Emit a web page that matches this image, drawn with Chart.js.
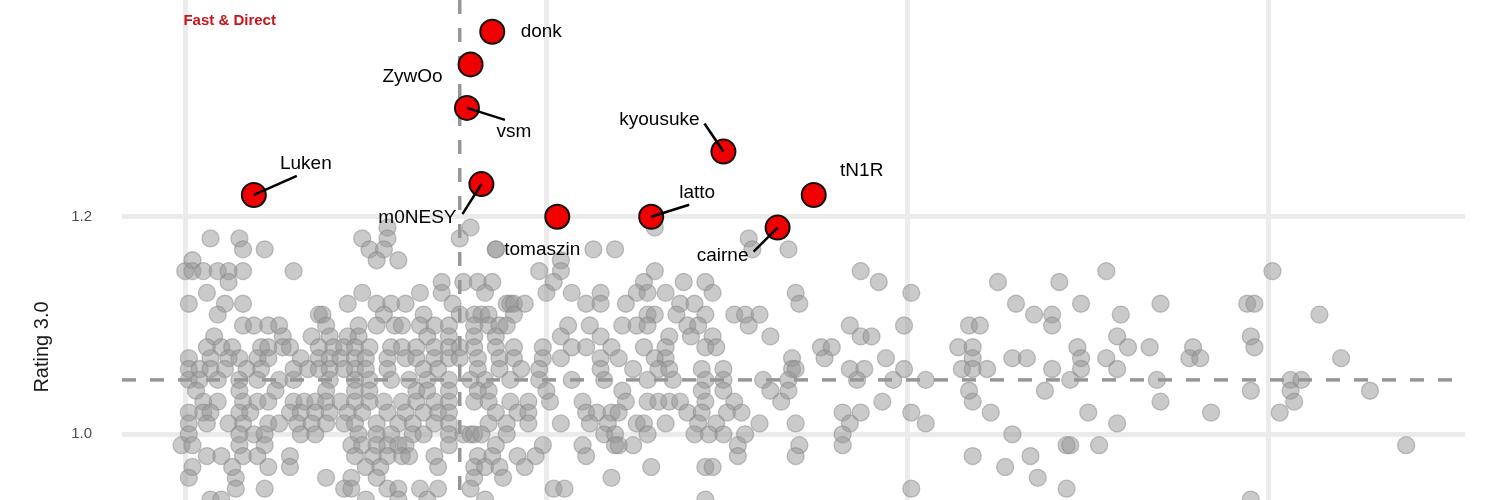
<!DOCTYPE html>
<html>
<head>
<meta charset="utf-8">
<title>Rating 3.0 scatter</title>
<script src="https://cdn.jsdelivr.net/npm/chart.js"></script>
<style>
  html, body { margin: 0; padding: 0; background: #fff; }
  #wrap { width: 1500px; height: 500px; }
</style>
</head>
<body>
<div id="wrap"><canvas id="chart" width="1500" height="500"></canvas></div>
<script>
// axis setup
const xTicks = [20, 30, 40, 50];
const yTicks = [1.0, 1.2];
const xMin = 18.25, xMax = 55.43;
const yMin = 0.9396, yMax = 1.3992;
const xMean = 27.6; // vertical dashed reference
const yMean = 1.05; // horizontal dashed reference

// highlighted players
const playerNames = ["donk", "ZywOo", "vsm", "Luken", "m0NESY", "tomaszin", "latto", "kyousuke", "tN1R", "cairne"];
const playerX = [28.5, 27.9, 27.8, 21.9, 28.2, 30.3, 32.9, 34.9, 37.4, 36.4];
const playerRating = [1.37, 1.34, 1.30, 1.22, 1.23, 1.20, 1.20, 1.26, 1.22, 1.19];

// everybody else, grouped by rating
const ratingLevels = [1.19, 1.18, 1.17, 1.16, 1.15, 1.14, 1.13, 1.12, 1.11, 1.10, 1.09, 1.08, 1.07, 1.06, 1.05, 1.04, 1.03, 1.02, 1.01, 1.00, 0.99, 0.98, 0.97, 0.96, 0.95, 0.94];
const otherXByLevel = [
  [25.6, 27.9, 33.0],
  [20.7, 21.5, 24.9, 25.6, 27.6, 35.6],
  [21.6, 22.2, 25.1, 25.5, 28.6, 28.6, 31.3, 31.9, 35.7, 36.7],
  [20.2, 25.3, 25.9, 30.4],
  [20.0, 20.2, 20.5, 20.9, 21.2, 21.6, 23.0, 29.8, 30.4, 33.0, 38.7, 45.5, 50.1],
  [21.2, 27.1, 27.7, 28.1, 28.5, 30.2, 32.7, 33.8, 34.4, 39.2, 42.5, 44.2],
  [20.6, 24.9, 26.5, 27.1, 28.3, 30.0, 30.7, 31.5, 32.5, 32.8, 33.3, 34.6, 36.9, 40.1],
  [20.1, 21.1, 21.6, 24.5, 25.3, 25.7, 26.1, 27.4, 28.9, 29.0, 29.1, 29.4, 31.1, 31.5, 32.2, 33.7, 34.1, 37.0, 43.0, 44.8, 47.0, 49.4, 49.6],
  [20.9, 23.7, 23.8, 25.5, 26.6, 27.6, 28.0, 28.2, 28.4, 29.1, 32.8, 33.0, 33.6, 34.4, 35.2, 35.5, 35.9, 43.5, 44.0, 45.9, 51.4],
  [21.6, 21.9, 22.3, 22.6, 23.9, 24.8, 25.3, 25.8, 26.0, 26.5, 26.9, 27.3, 28.0, 28.4, 28.7, 28.9, 30.6, 31.2, 32.1, 32.5, 32.8, 33.9, 34.2, 35.6, 38.4, 39.9, 41.7, 42.0, 44.0],
  [20.8, 22.7, 23.5, 24.0, 24.5, 24.8, 26.7, 27.3, 28.0, 28.6, 30.4, 31.5, 33.4, 34.0, 34.6, 36.2, 38.7, 39.0, 45.8, 49.5],
  [20.6, 21.0, 21.3, 22.1, 22.3, 22.7, 22.9, 23.7, 24.1, 24.4, 24.7, 25.1, 25.7, 26.0, 26.4, 26.9, 27.3, 27.6, 28.0, 28.6, 29.1, 29.9, 30.7, 31.1, 31.8, 32.7, 33.3, 34.4, 34.7, 37.6, 37.9, 41.4, 41.8, 44.7, 46.1, 46.7, 47.9, 49.6],
  [20.1, 20.7, 21.2, 21.5, 22.0, 22.3, 23.2, 23.7, 24.0, 24.3, 24.7, 25.0, 25.6, 26.1, 26.4, 26.9, 27.3, 27.6, 28.1, 28.7, 29.1, 29.9, 30.4, 31.5, 32.0, 33.0, 33.3, 36.8, 37.7, 39.4, 41.8, 42.9, 43.3, 44.8, 45.5, 47.8, 48.1, 52.0],
  [20.1, 20.4, 20.7, 21.1, 21.7, 22.1, 23.0, 23.4, 23.7, 24.0, 24.4, 24.7, 25.0, 25.6, 26.6, 27.0, 28.1, 28.7, 29.3, 29.8, 31.5, 32.4, 33.1, 33.4, 34.3, 34.9, 36.8, 36.9, 38.4, 38.8, 39.9, 41.5, 41.8, 42.2, 44.0, 44.8, 45.8],
  [20.1, 20.4, 20.9, 21.5, 22.0, 22.6, 23.0, 24.0, 24.7, 25.1, 25.7, 26.2, 26.7, 27.3, 27.9, 28.3, 29.0, 29.8, 30.7, 31.6, 32.8, 33.5, 34.4, 34.9, 36.0, 36.7, 38.6, 39.6, 40.5, 44.5, 46.9, 50.6, 50.9],
  [20.3, 21.5, 22.5, 23.9, 24.7, 25.1, 26.4, 26.7, 27.3, 28.1, 28.4, 30.0, 32.1, 34.3, 34.9, 36.2, 36.7, 41.7, 43.8, 49.5, 50.6, 52.8],
  [20.5, 20.9, 21.6, 22.0, 22.3, 23.0, 23.3, 23.6, 23.9, 24.3, 24.7, 25.1, 25.5, 26.0, 26.4, 26.9, 27.3, 28.0, 28.4, 29.0, 29.5, 30.1, 31.0, 32.2, 32.8, 33.1, 33.4, 33.7, 34.4, 35.2, 36.5, 39.3, 41.8, 47.0, 50.7],
  [20.1, 20.5, 20.7, 21.5, 21.8, 22.9, 23.2, 23.6, 24.0, 24.5, 24.9, 25.6, 26.1, 26.6, 27.0, 27.3, 28.6, 29.2, 29.5, 31.1, 31.4, 31.8, 32.0, 33.9, 34.3, 35.0, 35.4, 38.2, 38.7, 40.1, 42.3, 45.0, 48.4, 50.3],
  [20.1, 20.6, 21.2, 21.6, 22.3, 22.6, 23.1, 23.5, 23.9, 24.4, 24.7, 25.3, 25.9, 26.3, 26.9, 27.3, 28.4, 28.9, 29.5, 30.4, 31.2, 31.7, 32.5, 32.7, 33.3, 34.2, 34.7, 35.9, 36.9, 38.4, 40.5, 45.8],
  [20.1, 21.5, 21.9, 22.2, 23.2, 23.6, 24.8, 25.3, 25.7, 26.3, 26.6, 27.3, 27.7, 27.9, 28.0, 28.2, 28.9, 31.6, 31.9, 32.8, 34.1, 34.5, 34.9, 35.5, 38.2, 42.9],
  [19.9, 20.2, 21.5, 22.2, 24.6, 24.9, 25.3, 25.6, 25.9, 26.1, 27.3, 28.6, 29.9, 31.0, 31.9, 32.0, 32.4, 35.3, 37.0, 38.2, 44.4, 44.5, 45.3, 53.8],
  [20.6, 21.0, 21.6, 22.0, 22.9, 24.7, 25.2, 25.6, 26.0, 26.2, 26.9, 28.1, 28.5, 29.2, 29.7, 31.1, 35.3, 36.9, 41.8, 43.4],
  [20.2, 21.3, 22.3, 22.9, 25.0, 25.4, 27.0, 28.0, 28.3, 28.7, 29.4, 32.9, 34.4, 34.6, 42.7],
  [20.1, 21.4, 23.9, 24.6, 25.3, 28.0, 28.8, 31.8, 43.6],
  [21.4, 22.2, 24.4, 24.6, 25.6, 25.9, 26.5, 27.0, 27.9, 30.2, 30.5, 40.1, 44.4],
  [20.7, 21.0, 25.0, 25.9, 26.7, 28.3, 34.4, 49.5]
];

// label placement (pixel offsets from each highlighted point: label dx, dy, segment end)
const labelOffsets = [
  [49, 0, null],
  [-58, 12, null],
  [47, 24, [38, 12]],
  [52, -31, [43, -19]],
  [-64, 34, [-19, 30]],
  [-15, 33, null],
  [46, -24, [38, -12]],
  [-64, -32, [-19, -28]],
  [48, -24, null],
  [-55, 28, [-24, 24]]
];

const otherPoints = [];
ratingLevels.forEach((r, i) => {
  otherXByLevel[i].forEach((x) => otherPoints.push({ x: x, y: r }));
});
const playerPoints = playerX.map((x, i) => ({ x: x, y: playerRating[i] }));

// draws names, leader lines, axis title and the quadrant tag
const annotate = {
  id: "annotate",
  afterDatasetsDraw(chart) {
    const ctx = chart.ctx;
    const xs = chart.scales.x, ys = chart.scales.y;
    ctx.save();
    ctx.strokeStyle = "#000";
    ctx.lineWidth = 2.5;
    ctx.fillStyle = "#000";
    ctx.font = "19px 'Liberation Sans', Arial, sans-serif";
    ctx.textAlign = "center";
    ctx.textBaseline = "middle";
    playerPoints.forEach((p, i) => {
      const px = xs.getPixelForValue(p.x);
      const py = ys.getPixelForValue(p.y);
      const [dx, dy, seg] = labelOffsets[i];
      if (seg) {
        ctx.beginPath();
        ctx.moveTo(px, py);
        ctx.lineTo(px + seg[0], py + seg[1]);
        ctx.stroke();
      }
      ctx.fillText(playerNames[i], px + dx, py + dy);
    });

    // quadrant tag
    ctx.fillStyle = "#c4161c";
    ctx.font = "bold 15px 'Liberation Sans', Arial, sans-serif";
    ctx.textAlign = "left";
    ctx.fillText("Fast & Direct", xs.getPixelForValue(19.95), ys.getPixelForValue(1.38));

    // y axis title (sits lower than the visible area centre)
    ctx.translate(42, 347);
    ctx.rotate(-Math.PI / 2);
    ctx.fillStyle = "#1a1a1a";
    ctx.font = "20px 'Liberation Sans', Arial, sans-serif";
    ctx.textAlign = "center";
    ctx.fillText("Rating 3.0", 0, 0);
    ctx.restore();
  }
};

new Chart(document.getElementById("chart"), {
  type: "scatter",
  data: {
    datasets: [
      {
        label: "highlighted",
        data: playerPoints,
        order: 0,
        pointRadius: 12,
        pointBackgroundColor: "#f00000",
        pointBorderColor: "#111",
        pointBorderWidth: 2
      },
      {
        label: "mean rating",
        type: "line",
        data: [{ x: xMin, y: yMean }, { x: xMax, y: yMean }],
        order: 1,
        borderColor: "#969696",
        borderWidth: 3.5,
        borderDash: [14, 14],
        pointRadius: 0,
        fill: false
      },
      {
        label: "mean x",
        type: "line",
        data: [{ x: xMean, y: yMax }, { x: xMean, y: yMin }],
        order: 1,
        borderColor: "#969696",
        borderWidth: 3.5,
        borderDash: [14, 14],
        pointRadius: 0,
        fill: false
      },
      {
        label: "others",
        data: otherPoints,
        order: 2,
        pointRadius: 8.5,
        pointBackgroundColor: "rgba(150,150,150,0.5)",
        pointBorderColor: "rgba(135,135,135,0.5)",
        pointBorderWidth: 1.3
      }
    ]
  },
  options: {
    responsive: false,
    animation: false,
    events: [],
    layout: { autoPadding: false, padding: { left: 0, right: 35, top: 0, bottom: 0 } },
    plugins: { legend: { display: false }, tooltip: { enabled: false } },
    scales: {
      x: {
        type: "linear",
        min: xMin,
        max: xMax,
        afterBuildTicks: (s) => { s.ticks = xTicks.map((v) => ({ value: v })); },
        afterFit: (s) => { s.height = 0; s.paddingLeft = 0; s.paddingRight = 0; },
        ticks: { display: false },
        border: { display: false },
        grid: { color: "#ebebeb", lineWidth: 5, drawTicks: false }
      },
      y: {
        type: "linear",
        min: yMin,
        max: yMax,
        afterBuildTicks: (s) => { s.ticks = yTicks.map((v) => ({ value: v })); },
        afterFit: (s) => { s.width = 122; s.paddingTop = 0; s.paddingBottom = 0; },
        ticks: {
          padding: 30,
          color: "#4d4d4d",
          font: { family: "'Liberation Sans', Arial, sans-serif", size: 15 },
          callback: (v) => v.toFixed(1)
        },
        border: { display: false },
        grid: { color: "#ebebeb", lineWidth: 5, drawTicks: false }
      }
    }
  },
  plugins: [annotate]
});
</script>
</body>
</html>
